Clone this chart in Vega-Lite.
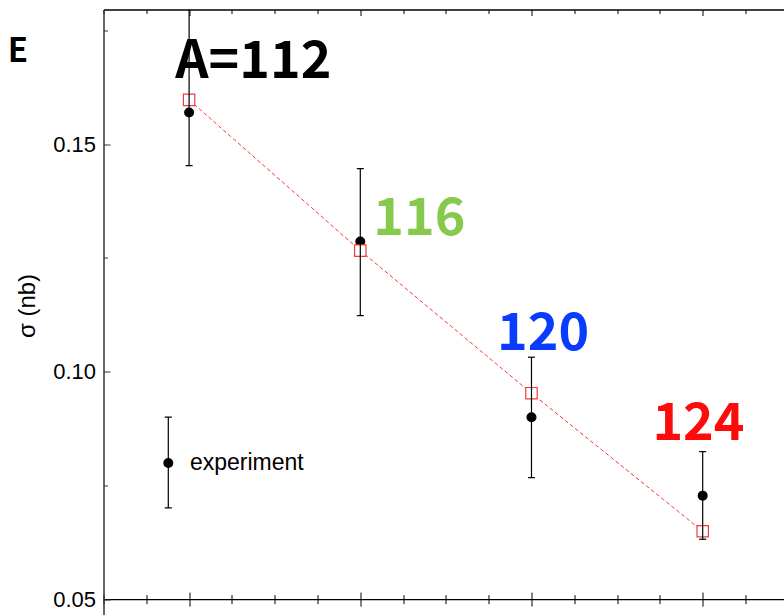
{
  "$schema": "https://vega.github.io/schema/vega-lite/v6.json",
  "width": 680.5,
  "height": 605.5,
  "autosize": "none",
  "padding": {"left": 103.5, "top": 9.5, "right": 0, "bottom": 0},
  "background": "white",
  "config": {"view": {"stroke": null}, "font": "Liberation Sans"},
  "datasets": {
    "exp": [
      {"A": 112, "sigma": 0.15695, "lo": 0.1453, "hi": 0.185},
      {"A": 116, "sigma": 0.12858, "lo": 0.11231, "hi": 0.14464},
      {"A": 120, "sigma": 0.08997, "lo": 0.07669, "hi": 0.10317},
      {"A": 124, "sigma": 0.07274, "lo": 0.06315, "hi": 0.08241},
      {"A": 111.514, "sigma": 0.07993, "lo": 0.07003, "hi": 0.08999}
    ],
    "theory": [
      {"A": 112, "sigma": 0.15974},
      {"A": 116, "sigma": 0.1266},
      {"A": 120, "sigma": 0.09525},
      {"A": 124, "sigma": 0.06491}
    ],
    "labels": [
      {"A": 113.5, "sigma": 0.16458, "text": "A=112", "series": "112"},
      {"A": 117.38, "sigma": 0.13006, "text": "116", "series": "116"},
      {"A": 120.27, "sigma": 0.10477, "text": "120", "series": "120"},
      {"A": 123.9, "sigma": 0.08498, "text": "124", "series": "124"}
    ],
    "panel": [{"A": 108.0, "sigma": 0.16816, "text": "E"}],
    "legendtext": [{"A": 112.02, "sigma": 0.07828, "text": "experiment"}]
  },
  "layer": [
    {
      "data": {"name": "theory"},
      "mark": {"type": "line", "stroke": "#f03c3c", "strokeWidth": 1, "strokeDash": [4, 2.5]},
      "encoding": {
        "x": {"field": "A", "type": "quantitative",
          "scale": {"domain": [110, 125.9], "nice": false, "zero": false},
          "axis": {"orient": "bottom", "offset": -15.9, "values": [110,111,112,113,114,115,116,117,118,119,120,121,122,123,124,125],
            "labels": false, "title": null, "grid": false, "domain": true, "domainColor": "black", "domainWidth": 1.3,
            "tickColor": "black", "tickWidth": 1,
            "tickSize": {"condition": {"test": "datum.value % 4 === 0", "value": 7}, "value": 4.5}}},
        "y": {"field": "sigma", "type": "quantitative",
          "scale": {"domain": [0.0465, 0.1796], "nice": false, "zero": false},
          "axis": {"orient": "left", "values": [0.05, 0.1, 0.15], "format": ".2f", "labelFontSize": 22, "labelColor": "black",
            "labelFont": "Liberation Sans", "labelPadding": 8, "ticks": false, "grid": false, "domain": true,
            "domainColor": "#333", "domainWidth": 1.5,
            "title": "σ (nb)", "titleFontSize": 24, "titleFontWeight": "normal", "titleColor": "black", "titleFont": "Liberation Sans",
            "titleX": -76.5, "titleY": 296, "titleAngle": -90, "titleAlign": "center", "titleBaseline": "middle"}}
      }
    },
    {
      "data": {"name": "exp"},
      "mark": {"type": "point", "filled": true, "color": "black", "size": 100, "opacity": 1},
      "encoding": {
        "x": {"field": "A", "type": "quantitative",
          "axis": {"orient": "bottom", "offset": -15.9, "values": [110,111,112,113,114,115,116,117,118,119,120,121,122,123,124,125],
            "labels": false, "title": null, "grid": false, "domain": false,
            "tickColor": "black", "tickWidth": 1,
            "tickSize": {"condition": {"test": "datum.value % 4 === 0", "value": -7}, "value": -4.5}}},
        "y": {"field": "sigma", "type": "quantitative",
          "axis": {"orient": "left", "values": [0.05, 0.075, 0.1, 0.125, 0.15, 0.175], "labels": false, "title": null,
            "grid": false, "domain": false, "tickColor": "#333", "tickWidth": 1,
            "tickSize": {"condition": {"test": "abs(datum.value*20 - round(datum.value*20)) < 0.001", "value": -6.5}, "value": -4}}}
      }
    },
    {
      "data": {"name": "theory"},
      "mark": {"type": "point", "shape": "square", "size": 130, "fill": "white", "stroke": "#f03c3c", "strokeWidth": 1.2, "opacity": 1, "fillOpacity": 1},
      "encoding": {
        "x": {"field": "A", "type": "quantitative",
          "axis": {"orient": "top", "values": [110,111,112,113,114,115,116,117,118,119,120,121,122,123,124,125],
            "labels": false, "title": null, "grid": false, "domain": true, "domainColor": "black", "domainWidth": 1.3,
            "tickColor": "black", "tickWidth": 1,
            "tickSize": {"condition": {"test": "datum.value % 4 === 0", "value": -6}, "value": -4}}},
        "y": {"field": "sigma", "type": "quantitative", "axis": null}
      }
    },
    {
      "data": {"name": "exp"},
      "mark": {"type": "rule", "color": "black", "strokeWidth": 1.2, "clip": true},
      "encoding": {
        "x": {"field": "A", "type": "quantitative", "axis": null},
        "y": {"field": "lo", "type": "quantitative", "axis": null},
        "y2": {"field": "hi"}
      }
    },
    {
      "data": {"name": "exp"},
      "mark": {"type": "tick", "orient": "horizontal", "color": "black", "size": 7, "thickness": 1.2, "clip": true, "opacity": 1},
      "encoding": {
        "x": {"field": "A", "type": "quantitative", "axis": null},
        "y": {"field": "lo", "type": "quantitative", "axis": null}
      }
    },
    {
      "data": {"name": "exp"},
      "mark": {"type": "tick", "orient": "horizontal", "color": "black", "size": 7, "thickness": 1.2, "clip": true, "opacity": 1},
      "encoding": {
        "x": {"field": "A", "type": "quantitative", "axis": null},
        "y": {"field": "hi", "type": "quantitative", "axis": null}
      }
    },
    {
      "data": {"name": "labels"},
      "mark": {"type": "text", "font": "Noto Sans CJK JP", "fontWeight": "bold", "fontSize": 52, "align": "center", "baseline": "alphabetic"},
      "encoding": {
        "x": {"field": "A", "type": "quantitative", "axis": null},
        "y": {"field": "sigma", "type": "quantitative", "axis": null},
        "text": {"field": "text"},
        "color": {"field": "series", "type": "nominal", "legend": null,
          "scale": {"domain": ["112", "116", "120", "124"], "range": ["#000000", "#86c94c", "#0a3cff", "#ff0a0a"]}}
      }
    },
    {
      "data": {"name": "panel"},
      "mark": {"type": "text", "font": "Noto Sans CJK JP", "fontWeight": "bold", "fontSize": 33, "align": "center", "baseline": "alphabetic", "color": "black"},
      "encoding": {
        "x": {"field": "A", "type": "quantitative", "axis": null},
        "y": {"field": "sigma", "type": "quantitative", "axis": null},
        "text": {"field": "text"}
      }
    },
    {
      "data": {"name": "legendtext"},
      "mark": {"type": "text", "font": "Liberation Sans", "fontSize": 23, "align": "left", "baseline": "alphabetic", "color": "black"},
      "encoding": {
        "x": {"field": "A", "type": "quantitative", "axis": null},
        "y": {"field": "sigma", "type": "quantitative", "axis": null},
        "text": {"field": "text"}
      }
    }
  ],
  "resolve": {"axis": {"x": "independent", "y": "independent"}}
}
